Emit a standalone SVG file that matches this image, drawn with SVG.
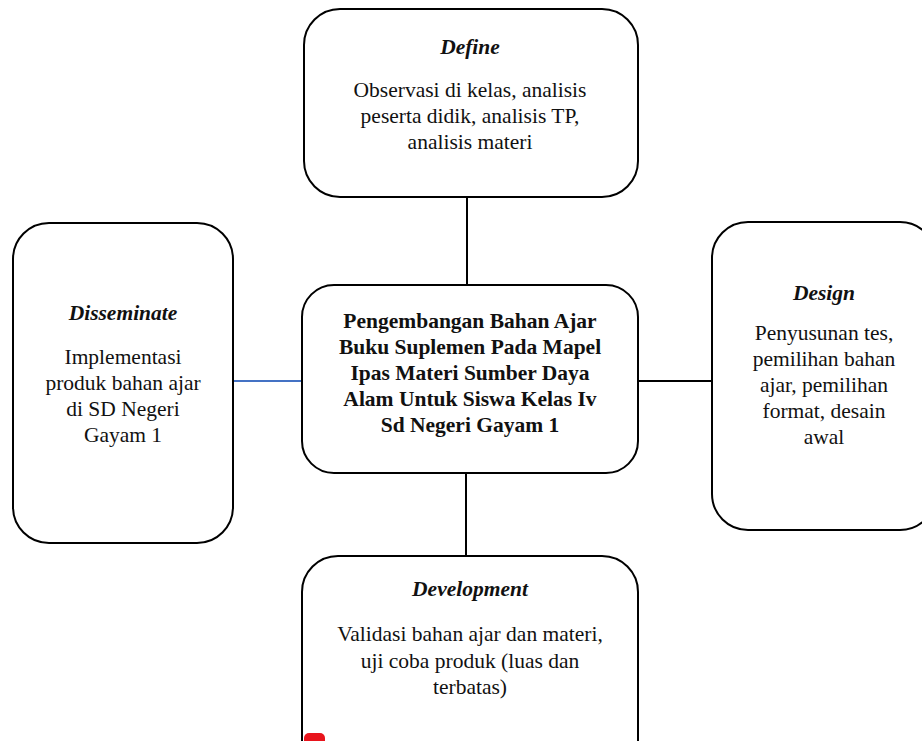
<svg xmlns="http://www.w3.org/2000/svg" width="922" height="741" viewBox="0 0 922 741">
<style>
.box{fill:#fff;stroke:#000;stroke-width:2}
.t{font-family:"Liberation Serif","Times New Roman",serif;font-size:21.5px;fill:#111;text-anchor:middle}
.h{font-weight:bold;font-style:italic}
.b{font-weight:bold}
.c{stroke:#000;stroke-width:2;fill:none}
</style>
<rect width="922" height="741" fill="#fff"/>
<g id="connectors">
<line class="c" x1="467" y1="197" x2="467" y2="285"/>
<line class="c" x1="466" y1="473" x2="466" y2="556"/>
<line x1="233" y1="381" x2="302" y2="381" stroke="#4472c4" stroke-width="2"/>
<line class="c" x1="638" y1="381" x2="712" y2="381"/>
</g>
<g id="define">
<rect class="box" x="304" y="9" width="334" height="188" rx="36"/>
<text class="t h" x="470" y="54">Define</text>
<text class="t" x="470" y="97">Observasi di kelas, analisis</text>
<text class="t" x="470" y="123">peserta didik, analisis TP,</text>
<text class="t" x="470" y="149">analisis materi</text>
</g>
<g id="disseminate">
<rect class="box" x="13" y="223" width="220" height="320" rx="36"/>
<text class="t h" x="123" y="320">Disseminate</text>
<text class="t" x="123" y="364">Implementasi</text>
<text class="t" x="123" y="390">produk bahan ajar</text>
<text class="t" x="123" y="416">di SD Negeri</text>
<text class="t" x="123" y="442">Gayam 1</text>
</g>
<g id="center">
<rect class="box" x="302" y="285" width="336" height="188" rx="32"/>
<text class="t b" x="470" y="328">Pengembangan Bahan Ajar</text>
<text class="t b" x="470" y="354">Buku Suplemen Pada Mapel</text>
<text class="t b" x="470" y="380">Ipas Materi Sumber Daya</text>
<text class="t b" x="470" y="406">Alam Untuk Siswa Kelas Iv</text>
<text class="t b" x="470" y="432">Sd Negeri Gayam 1</text>
</g>
<g id="design">
<rect class="box" x="712" y="222" width="224" height="308" rx="36"/>
<text class="t h" x="824" y="300">Design</text>
<text class="t" x="824" y="340">Penyusunan tes,</text>
<text class="t" x="824" y="366">pemilihan bahan</text>
<text class="t" x="824" y="392">ajar, pemilihan</text>
<text class="t" x="824" y="418">format, desain</text>
<text class="t" x="824" y="444">awal</text>
</g>
<g id="development">
<rect class="box" x="302" y="556" width="336" height="220" rx="36"/>
<text class="t h" x="470" y="596">Development</text>
<text class="t" x="470" y="641">Validasi bahan ajar dan materi,</text>
<text class="t" x="470" y="668">uji coba produk (luas dan</text>
<text class="t" x="470" y="694">terbatas)</text>
</g>
<rect x="304" y="733" width="21" height="14" rx="5" fill="#e8141c"/>
</svg>
